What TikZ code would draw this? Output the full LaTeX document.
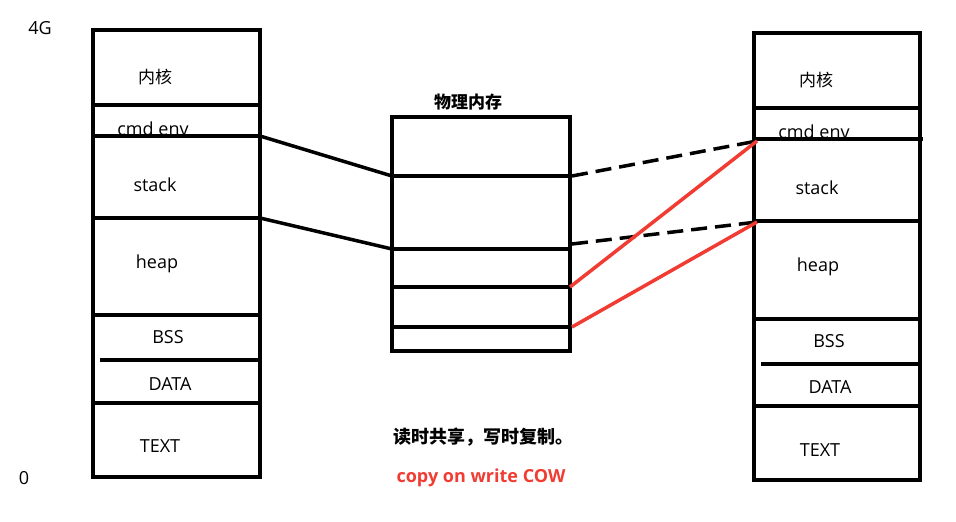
\documentclass[tikz,border=0pt]{standalone}
\usepackage{fontspec}
\setmainfont{Open Sans}
\newfontfamily\cjk{Noto Sans CJK SC}
\begin{document}
\begin{tikzpicture}[x=1pt,y=-1pt,
  seg/.style={line width=3.5pt},
  lbl/.style={font=\fontsize{18}{20}\selectfont, inner sep=0pt},
  clbl/.style={font=\cjk\fontsize{17}{19}\selectfont, inner sep=0pt},
  link/.style={line width=3.5pt},
  dlink/.style={line width=3.5pt, dash pattern=on 16pt off 8pt},
  rlink/.style={line width=3.5pt, color=cowred}]
\definecolor{cowred}{RGB}{240,60,50}
\useasboundingbox (0,0) rectangle (956,522);
% labels
\node[lbl] (g4) at (40,28) {4G};
\node[lbl] (g0) at (24,478) {0};
\node[clbl] (lk) at (155,77) {内核};
\node[lbl, anchor=base] (le) at (153,135) {cmd env};
\node[lbl] (ls) at (155,185) {stack};
\node[lbl] (lh) at (157,264) {heap};
\node[lbl] (lb) at (168,337) {BSS};
\node[lbl] (ld) at (170,384) {DATA};
\node[lbl] (lt) at (160,446) {TEXT};
\node[clbl, font=\cjk\bfseries\fontsize{17}{19}\selectfont] (mt) at (468,102) {物理内存};
\node[clbl] (rk) at (816,80) {内核};
\node[lbl, anchor=base] (re) at (814,138.5) {cmd env};
\node[lbl] (rs) at (817,188) {stack};
\node[lbl] (rh) at (818,267) {heap};
\node[lbl] (rb) at (829,341) {BSS};
\node[lbl] (rd) at (830,387) {DATA};
\node[lbl] (rt) at (820,450) {TEXT};
\node[clbl, font=\cjk\bfseries\fontsize{18}{20}\selectfont] (s1) at (483,437) {读时共享，写时复制。};
\node[lbl, font=\bfseries\fontsize{18}{20}\selectfont, text=cowred] (s2) at (481,478) {copy on write COW};
% left column
\draw[seg] (93,30) rectangle (260,477);
\draw[seg] (93,105) -- (260,105);
\draw[seg] (93,136) -- (260,136);
\draw[seg] (93,218) -- (260,218);
\draw[seg] (93,315) -- (260,315);
\draw[seg] (100,360) -- (260,360);
\draw[seg] (93,403) -- (260,403);
% middle column
\draw[seg] (392,117) rectangle (570,351);
\draw[seg] (392,176) -- (570,176);
\draw[seg] (392,249) -- (570,249);
\draw[seg] (392,287) -- (570,287);
\draw[seg] (392,327) -- (570,327);
% right column
\draw[seg] (754,33) rectangle (920,480);
\draw[seg] (754,108) -- (920,108);
\draw[seg] (754,139) -- (923,139);
\draw[seg] (754,221) -- (920,221);
\draw[seg] (754,319) -- (920,319);
\draw[seg] (761,364) -- (920,364);
\draw[seg] (754,406) -- (920,406);
% connection points
\coordinate (Lenv) at (260,136);
\coordinate (Lstk) at (260,218);
\coordinate (Ma) at (392,176);
\coordinate (Mb) at (392,249);
\coordinate (Mar) at (572,176);
\coordinate (Mbr) at (572,244);
\coordinate (Mcr) at (570,287);
\coordinate (Mdr) at (572,327);
\coordinate (Renv) at (757,141);
\coordinate (Rstk) at (757,222);
% connectors
\draw[link] (Lenv) -- (Ma);
\draw[link] (Lstk) -- (Mb);
\draw[dlink] (Mar) -- (Renv);
\draw[dlink] (Mbr) -- (Rstk);
\draw[rlink] (Mcr) -- (Renv);
\draw[rlink] (Mdr) -- (Rstk);
\end{tikzpicture}
\end{document}
